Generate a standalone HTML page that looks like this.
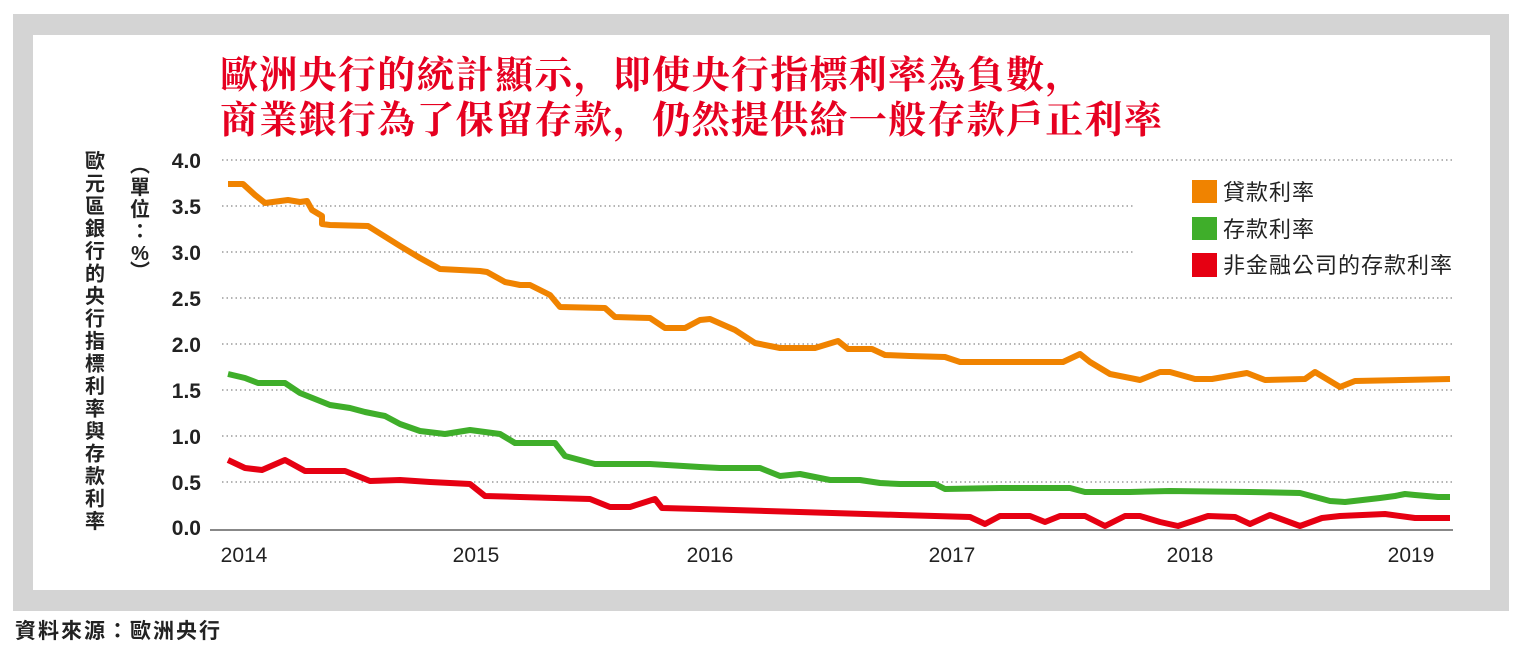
<!DOCTYPE html>
<html><head><meta charset="utf-8"><style>
body{margin:0;background:#fff;width:1536px;height:655px;overflow:hidden}
svg text{font-family:"Liberation Sans","Noto Sans CJK TC",sans-serif}
</style></head><body>
<svg width="1536" height="655" viewBox="0 0 1536 655">
<rect x="13" y="14" width="1496" height="597" fill="#d4d4d4"/>
<rect x="33" y="35" width="1457" height="555" fill="#fff"/>
<g font-weight="bold" font-size="38" fill="#e60020" letter-spacing="1.3">
<text x="220" y="88" style="font-family:'Liberation Serif','Noto Serif CJK SC',serif">歐洲央行的統計顯示，即使央行指標利率為負數，</text>
<text x="220" y="133" style="font-family:'Liberation Serif','Noto Serif CJK SC',serif">商業銀行為了保留存款，仍然提供給一般存款戶正利率</text>
</g>
<g stroke="#888" stroke-width="1.3" stroke-dasharray="1.5 3">
<line x1="222" y1="160" x2="1453" y2="160"/>
<line x1="222" y1="206" x2="1135" y2="206"/>
<line x1="222" y1="252" x2="1135" y2="252"/>
<line x1="222" y1="298" x2="1453" y2="298"/>
<line x1="222" y1="344" x2="1453" y2="344"/>
<line x1="222" y1="390" x2="1453" y2="390"/>
<line x1="222" y1="436" x2="1453" y2="436"/>
<line x1="222" y1="482" x2="1453" y2="482"/>
</g>
<line x1="210" y1="530" x2="1453" y2="530" stroke="#888" stroke-width="2"/>
<g font-size="21" font-weight="bold" fill="#222" text-anchor="end">
<text x="201" y="168">4.0</text><text x="201" y="214">3.5</text><text x="201" y="260">3.0</text>
<text x="201" y="306">2.5</text><text x="201" y="352">2.0</text><text x="201" y="398">1.5</text>
<text x="201" y="444">1.0</text><text x="201" y="490">0.5</text><text x="201" y="535">0.0</text>
</g>
<g font-size="21" fill="#222" text-anchor="middle">
<text x="244" y="562">2014</text><text x="476" y="562">2015</text><text x="710" y="562">2016</text>
<text x="952" y="562">2017</text><text x="1190" y="562">2018</text><text x="1411" y="562">2019</text>
</g>
<g font-size="20" font-weight="bold" fill="#222" text-anchor="middle">
<text x="95" y="168">歐</text><text x="95" y="190.5">元</text><text x="95" y="213">區</text><text x="95" y="235.5">銀</text>
<text x="95" y="258">行</text><text x="95" y="280.5">的</text><text x="95" y="303">央</text><text x="95" y="325.5">行</text>
<text x="95" y="348">指</text><text x="95" y="370.5">標</text><text x="95" y="393">利</text><text x="95" y="415.5">率</text>
<text x="95" y="438">與</text><text x="95" y="460.5">存</text><text x="95" y="483">款</text><text x="95" y="505.5">利</text>
<text x="95" y="528">率</text>
<text x="140" y="172">︵</text><text x="140" y="194">單</text><text x="140" y="216">位</text>
<text x="140" y="238">：</text><text x="140" y="260">%</text><text x="140" y="278">︶</text>
</g>
<g fill="none" stroke-width="6" stroke-linejoin="round" stroke-linecap="butt">
<polyline stroke="#f08300" points="228,184 243,184 255,195 265,203 288,200 300,202 307,201 312,210 322,216 322,224 330,225 368,226 400,246 420,258 440,269 480,271 487,272 505,282 520,285 530,285 550,295 560,307 605,308 615,317 650,318 665,328 685,328 700,320 710,319 735,330 755,343 780,348 815,348 838,341 848,349 872,349 885,355 910,356 945,357 960,362 1063,362 1080,354 1090,362 1110,374 1140,380 1160,372 1170,372 1195,379 1212,379 1247,373 1265,380 1305,379 1315,372 1340,387 1355,381 1450,379"/>
<polyline stroke="#3fae2a" points="228,374 245,378 258,383 285,383 300,393 330,405 350,408 365,412 385,416 400,424 420,431 445,434 470,430 500,434 515,443 540,443 555,443 565,456 595,464 650,464 700,467 720,468 760,468 780,476 800,474 805,475 830,480 860,480 880,483 900,484 935,484 945,489 1000,488 1070,488 1085,492 1130,492 1170,491 1250,492 1300,493 1330,501 1345,502 1380,498 1395,496 1405,494 1415,495 1438,497 1450,497"/>
<polyline stroke="#e60012" points="228,460 245,468 262,470 285,460 305,471 345,471 370,481 400,480 430,482 470,484 485,496 520,497 590,499 610,507 630,507 655,499 662,508 700,509 900,515 970,517 985,524 1000,516 1030,516 1045,522 1060,516 1085,516 1105,526 1125,516 1140,516 1160,522 1178,526 1208,516 1235,517 1250,524 1270,515 1300,526 1322,518 1340,516 1385,514 1415,518 1450,518"/>
</g>
<rect x="1192" y="180" width="25" height="23" fill="#f08300"/>
<rect x="1192" y="217" width="25" height="23" fill="#3fae2a"/>
<rect x="1192" y="253" width="25" height="24" fill="#e60012"/>
<g font-size="22" fill="#222" letter-spacing="1">
<text x="1223" y="200">貸款利率</text><text x="1223" y="237">存款利率</text><text x="1223" y="273">非金融公司的存款利率</text>
</g>
<text x="15" y="638" font-size="21" font-weight="bold" fill="#222" letter-spacing="2">資料來源：歐洲央行</text>
</svg>
</body></html>
